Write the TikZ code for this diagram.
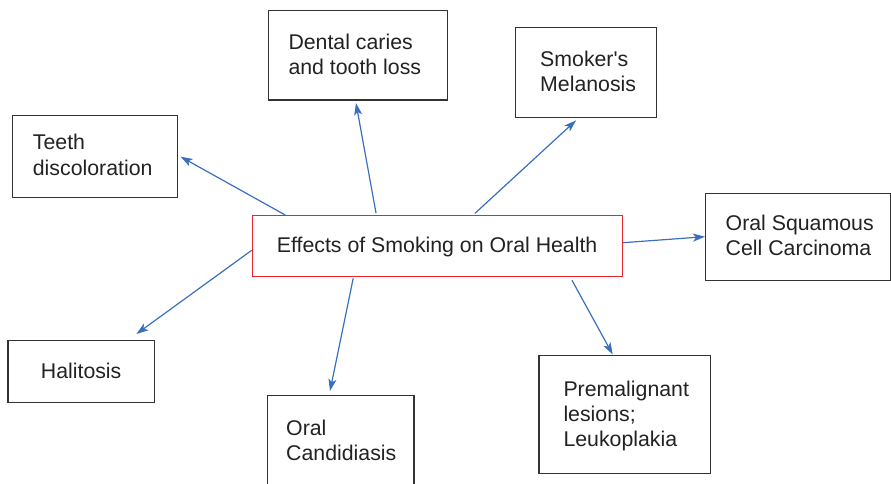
\documentclass[tikz,border=0pt]{standalone}
\usepackage{fontspec}
\setmainfont{Liberation Sans}
\usetikzlibrary{arrows.meta,calc}
\definecolor{boxline}{HTML}{333333}
\definecolor{hubline}{HTML}{E8242C}
\definecolor{arrowblue}{HTML}{3A6FBF}
\definecolor{txt}{HTML}{222222}
\begin{document}
\begin{tikzpicture}[x=1pt,y=-1pt,
  box/.style={draw=boxline,line width=1.4pt,anchor=north west,inner sep=0pt,
    minimum width=#1},
  hubbox/.style={box=#1,draw=hubline,line width=1.3pt},
  lbl/.style={anchor=base west,inner sep=0pt,align=left,text=txt,
    font=\fontsize{21.3}{25}\selectfont},
  arr/.style={draw=arrowblue,line width=1.2pt,
    -{Stealth[length=12pt,width=8pt,inset=3pt]}}]
\useasboundingbox (0,0) rectangle (891,484);
\clip (0,0) rectangle (891,484);

% boxes
\node[hubbox=370pt,minimum height=61pt] (hub) at (251.7,215) {};
\node[box=165pt,minimum height=81.7pt] (teeth) at (11.7,115) {};
\node[box=178.7pt,minimum height=89.3pt] (dental) at (268,10) {};
\node[box=141pt,minimum height=90pt] (melan) at (515,26.7) {};
\node[box=185pt,minimum height=87.3pt] (squam) at (705,192.7) {};
\node[box=146.7pt,minimum height=61.7pt] (hali) at (7.3,340) {};
\node[box=146.7pt,minimum height=110pt] (cand) at (266.7,395) {};
\node[box=171.7pt,minimum height=117.7pt] (prem) at (538.3,355) {};

% labels (anchored at the baseline of the last line)
\node[lbl] (hubt) at (276.7,252.7) {Effects of Smoking on Oral Health};
\node[lbl] (teetht) at (32.7,175) {Teeth\\discoloration};
\node[lbl] (dentalt) at (288.3,74.3) {Dental caries\\and tooth loss};
\node[lbl] (melant) at (540,91.7) {Smoker\textquotesingle s\\Melanosis};
\node[lbl] (squamt) at (725.5,255) {Oral Squamous\\Cell Carcinoma};
\node[lbl] (halit) at (40.7,378.3) {Halitosis};
\node[lbl] (candt) at (286,460) {Oral\\Candidiasis};
\node[lbl] (premt) at (563.3,446.7) {Premalignant\\lesions;\\Leukoplakia};

% connectors
\draw[arr] ($(hub.north west)+(33.5,0)$) -- ($(teeth.north east)+(2.5,41.7)$);
\draw[arr] ($(hub.north west)+(124.3,-2)$) -- ($(dental.south west)+(88,2.4)$);
\draw[arr] ($(hub.north west)+(223.3,-1.7)$) -- ($(melan.south west)+(61,2.3)$);
\draw[arr] ($(hub.north east)+(0,27.7)$) -- ($(squam.north west)+(0,44)$);
\draw[arr] ($(hub.south west)+(0,-27)$) -- ($(hali.north east)+(-19,-6)$);
\draw[arr] ($(hub.south west)+(101.5,1)$) -- ($(cand.north west)+(63.3,-4)$);
\draw[arr] ($(hub.south east)+(-51,3)$) -- ($(prem.north west)+(74.4,-0.5)$);
\end{tikzpicture}
\end{document}
